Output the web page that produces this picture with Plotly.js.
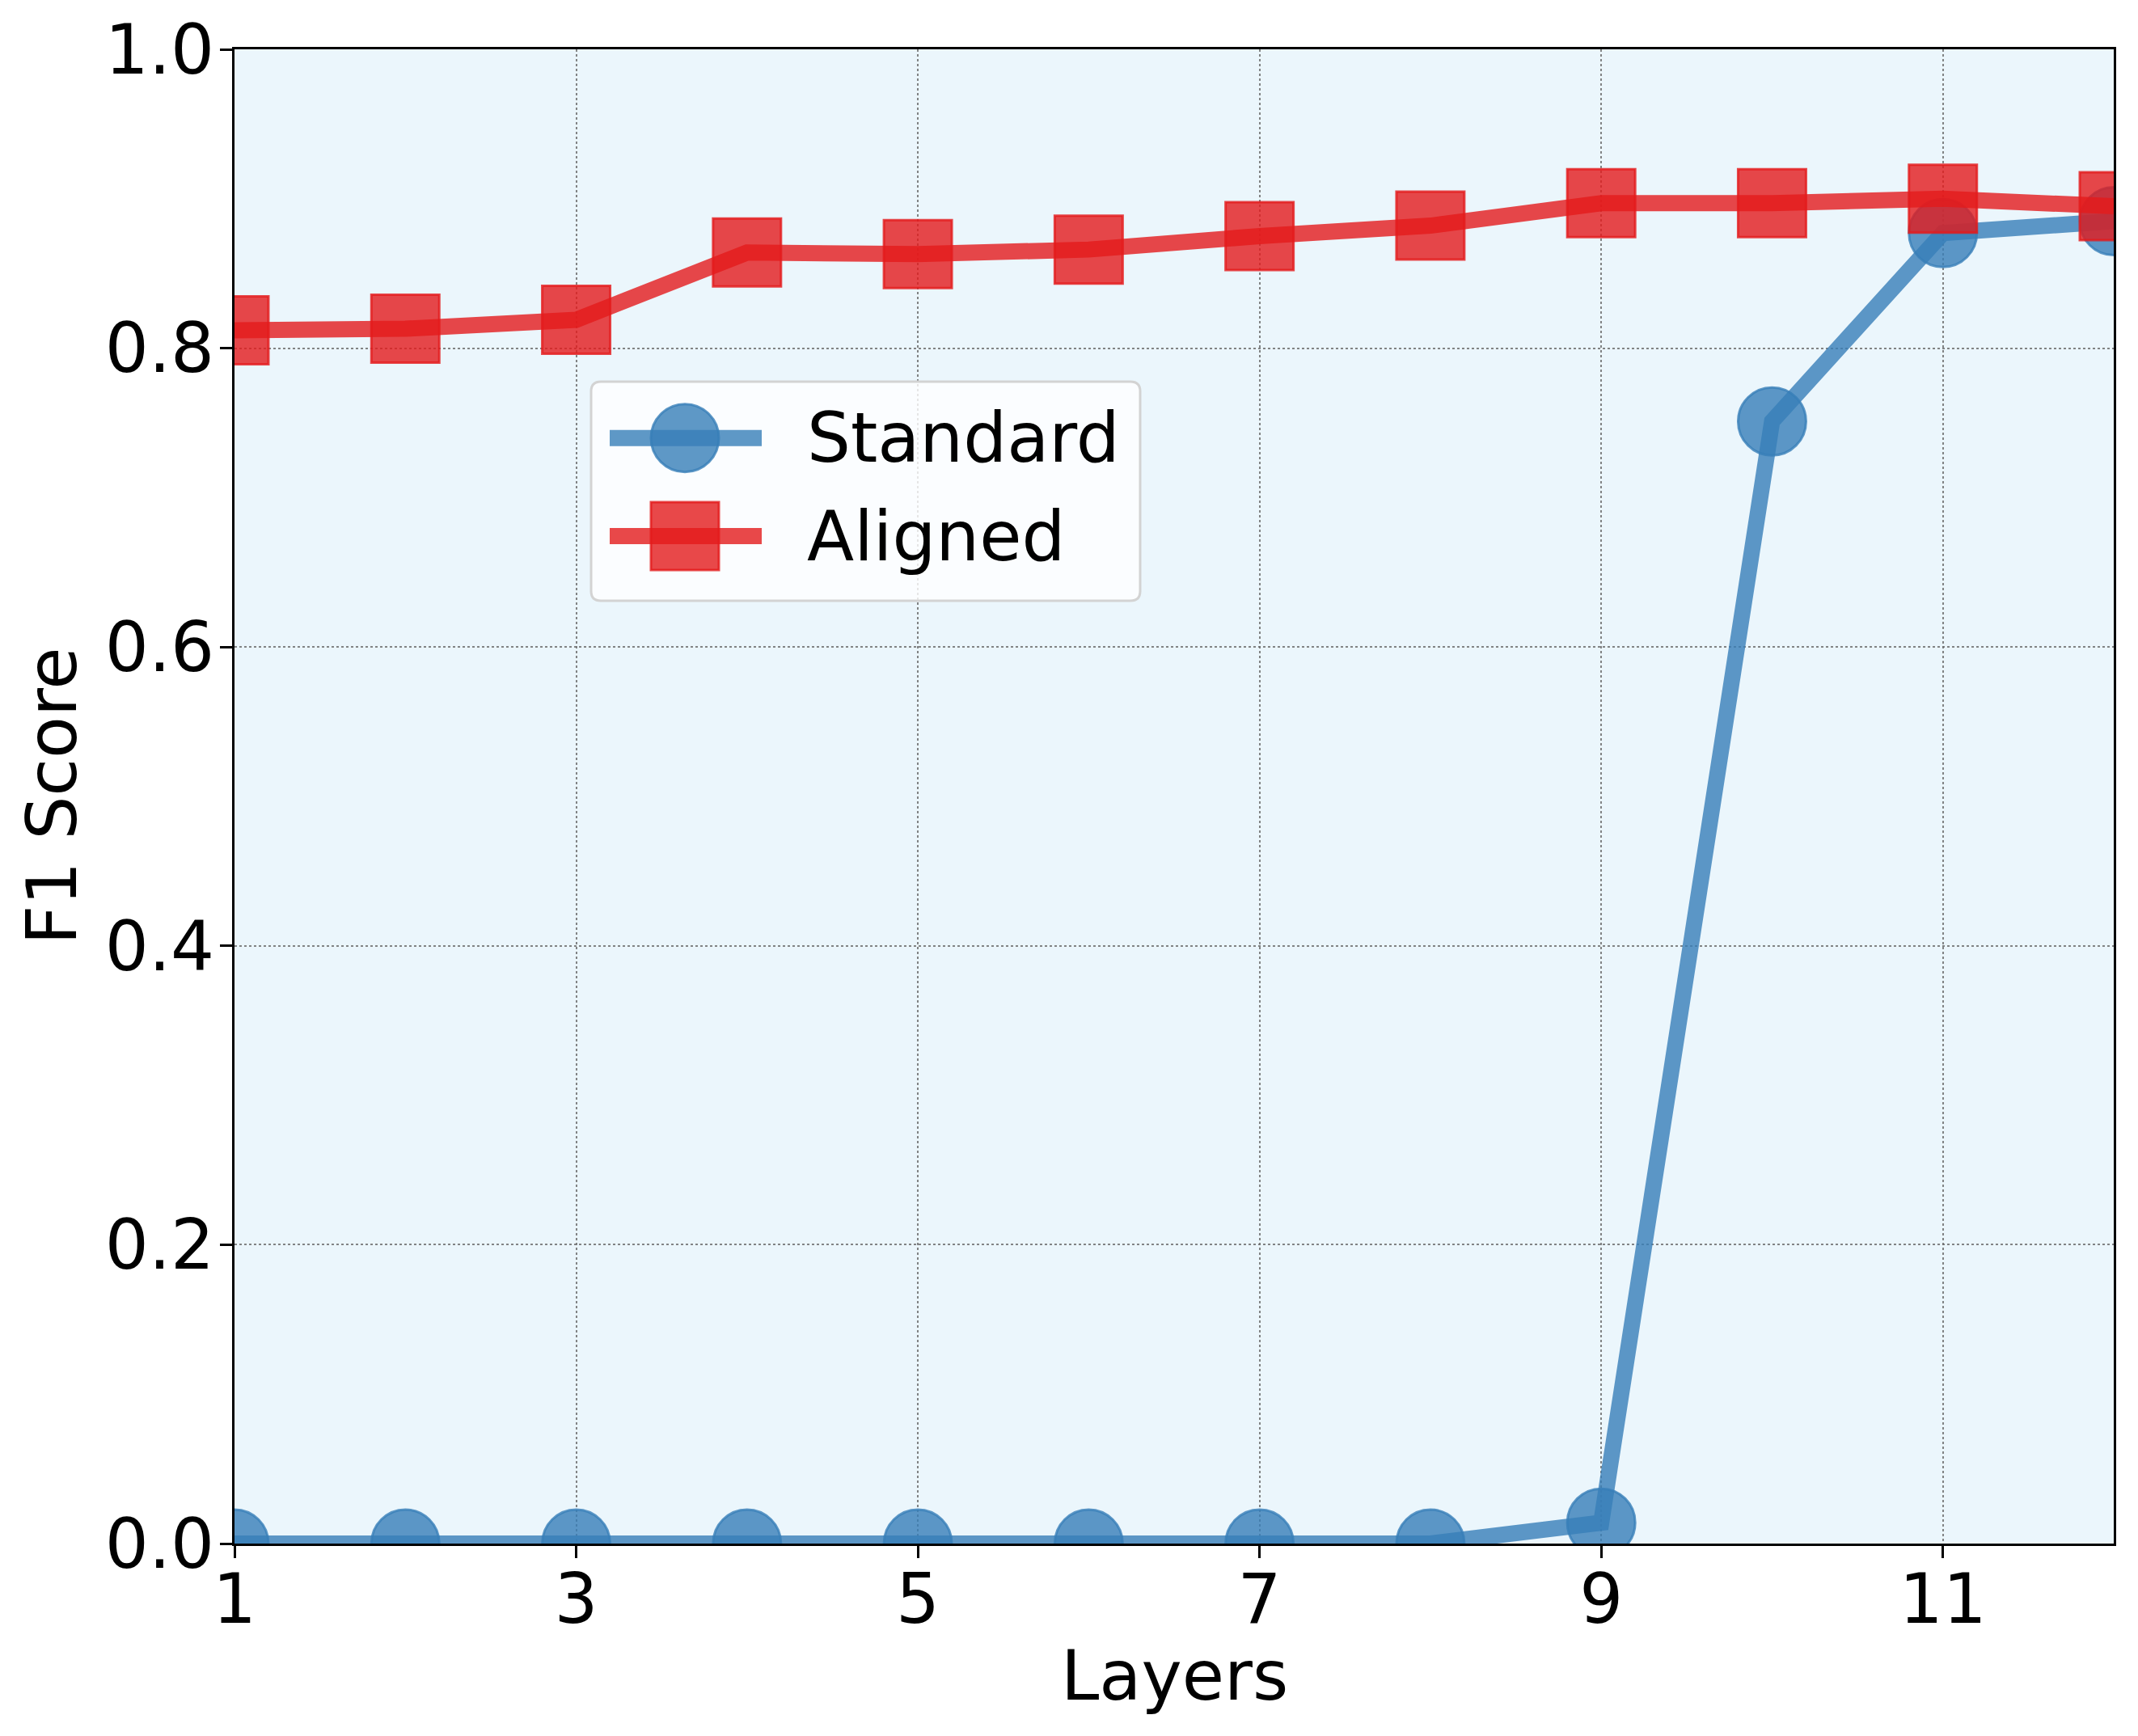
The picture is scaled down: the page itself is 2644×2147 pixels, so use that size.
<!DOCTYPE html>
<html>
<head>
<meta charset="utf-8">
<script src="https://cdn.plot.ly/plotly-3.0.1.min.js"></script>
<style>
  html, body { margin: 0; padding: 0; background: #ffffff; }
  #chart { width: 2644px; height: 2147px; }
</style>
</head>
<body>
<div id="chart"></div>
<script>
// ---- Data ----
const layers = [1, 2, 3, 4, 5, 6, 7, 8, 9, 10, 11, 12];
const standardF1 = [0, 0, 0, 0, 0, 0, 0, 0, 0.014, 0.751, 0.877, 0.885];
const alignedF1 = [0.812, 0.813, 0.819, 0.864, 0.863, 0.866, 0.875, 0.882, 0.897, 0.897, 0.900, 0.895];
const seriesNames = ["Standard", "Aligned"];
const xTickVals = [1, 3, 5, 7, 9, 11];
const yTickVals = [0, 0.2, 0.4, 0.6, 0.8, 1.0];
const xTitle = "Layers";
const yTitle = "F1 Score";

// ---- Styles ----
const blue = "rgba(55,126,184,0.8)";
const red = "rgba(228,26,28,0.8)";
const FONT = "DejaVu Sans, Liberation Sans, sans-serif";
const FS = 85;

const traces = [
  {
    x: layers, y: standardF1, name: seriesNames[0], type: "scatter", mode: "lines+markers",
    line: { color: blue, width: 20 },
    marker: { symbol: "circle", size: 84, color: blue, line: { color: blue, width: 3 } },
    showlegend: false
  },
  {
    x: layers, y: alignedF1, name: seriesNames[1], type: "scatter", mode: "lines+markers",
    line: { color: red, width: 20 },
    marker: { symbol: "square", size: 84, color: red, line: { color: red, width: 3 } },
    showlegend: false
  }
];

// ---- Custom legend (paper coordinates), matching the reference's large symbols ----
const W = 2644, H = 2147;
const mL = 290, mR = 30, mT = 61, mB = 238;
const pw = W - mL - mR, ph = H - mT - mB;
function px(x) { return (x - mL) / pw; }
function py(y) { return (H - mB - y) / ph; }

const lgX0 = 731, lgX1 = 1410, lgY0 = 472, lgY1 = 743, rad = 12;
function roundedRectPath(x0, y0, x1, y1, r) {
  const rx = r / pw, ry = r / ph;
  const X0 = px(x0), X1 = px(x1), Y0 = py(y0), Y1 = py(y1); // Y0 top (higher)
  return `M ${X0 + rx},${Y0} L ${X1 - rx},${Y0} Q ${X1},${Y0} ${X1},${Y0 - ry} ` +
         `L ${X1},${Y1 + ry} Q ${X1},${Y1} ${X1 - rx},${Y1} L ${X0 + rx},${Y1} ` +
         `Q ${X0},${Y1} ${X0},${Y1 + ry} L ${X0},${Y0 - ry} Q ${X0},${Y0} ${X0 + rx},${Y0} Z`;
}
const rows = [
  { y: 541.7, color: blue, sym: "circle", name: seriesNames[0] },
  { y: 663.0, color: red, sym: "rect", name: seriesNames[1] }
];
const shapes = [
  { type: "path", xref: "paper", yref: "paper", path: roundedRectPath(lgX0, lgY0, lgX1, lgY1, rad),
    fillcolor: "rgba(255,255,255,0.8)", line: { color: "#d3d3d3", width: 3 }, layer: "above" }
];
const annotations = [];
rows.forEach(r => {
  shapes.push({ type: "line", xref: "paper", yref: "paper",
    x0: px(754), x1: px(942), y0: py(r.y), y1: py(r.y),
    line: { color: r.color, width: 20 }, layer: "above" });
  shapes.push({ type: r.sym, xref: "paper", yref: "paper",
    x0: px(847 - 42), x1: px(847 + 42), y0: py(r.y + 42), y1: py(r.y - 42),
    fillcolor: r.color, line: { color: r.color, width: 3 }, layer: "above" });
  annotations.push({ xref: "paper", yref: "paper", x: px(996), y: py(r.y),
    xanchor: "left", yanchor: "middle", text: r.name, showarrow: false,
    font: { family: FONT, size: FS, color: "#000000" } });
});

// Axis titles placed as annotations for exact positioning
annotations.push({ xref: "paper", yref: "paper", x: 0.5, y: py(2072),
  xanchor: "center", yanchor: "middle", text: xTitle, showarrow: false,
  font: { family: FONT, size: FS, color: "#000000" } });
annotations.push({ xref: "paper", yref: "paper", x: px(63.6), y: 0.5, textangle: -90,
  xanchor: "center", yanchor: "middle", text: yTitle, showarrow: false,
  font: { family: FONT, size: FS, color: "#000000" } });

const axisCommon = {
  showline: true, linecolor: "#000000", linewidth: 3, mirror: true,
  ticks: "outside", ticklen: 15, tickwidth: 3, tickcolor: "#000000",
  showgrid: true, gridcolor: "rgba(110,110,110,0.85)", gridwidth: 2, griddash: "dot",
  zeroline: false,
  tickfont: { family: FONT, size: FS, color: "#000000" }
};

const layout = {
  width: W, height: H,
  margin: { l: mL, r: mR, t: mT, b: mB, pad: 0 },
  paper_bgcolor: "#ffffff",
  plot_bgcolor: "#ebf6fc",
  showlegend: false,
  font: { family: FONT, size: FS, color: "#000000" },
  xaxis: Object.assign({}, axisCommon, {
    range: [1, 12], tickvals: xTickVals, ticktext: xTickVals.map(String),
    ticklabelstandoff: -22
  }),
  yaxis: Object.assign({}, axisCommon, {
    range: [0, 1], tickvals: yTickVals, ticktext: yTickVals.map(v => v.toFixed(1)),
    ticklabelstandoff: -10
  }),
  shapes: shapes,
  annotations: annotations
};

Plotly.newPlot("chart", traces, layout, { staticPlot: true, displayModeBar: false });
</script>
</body>
</html>
